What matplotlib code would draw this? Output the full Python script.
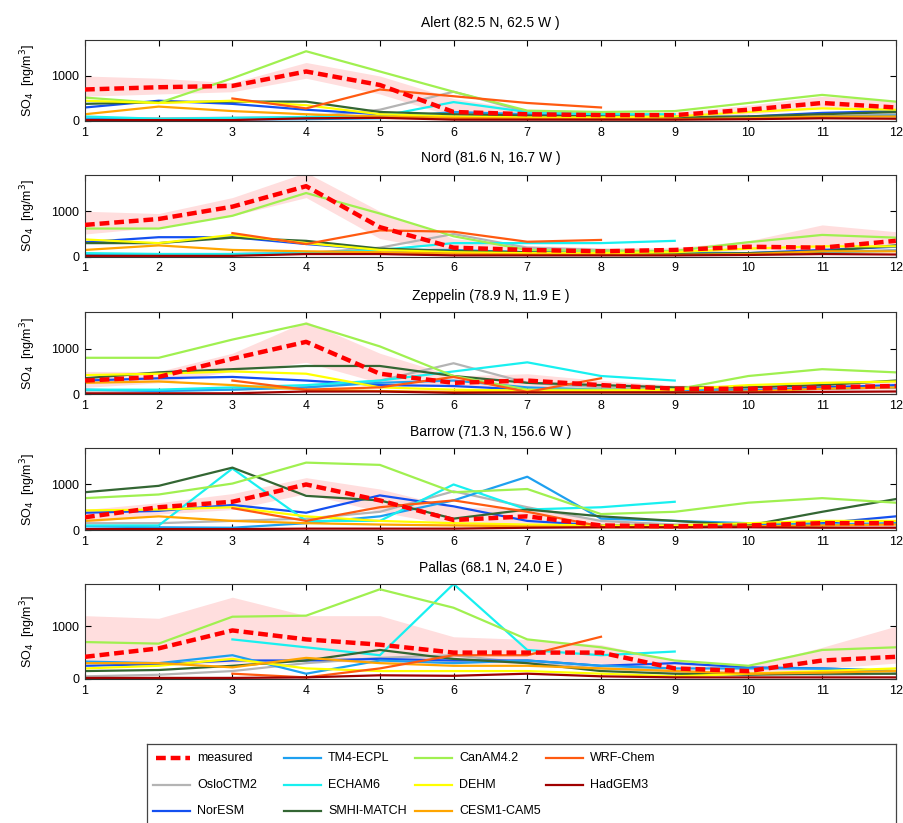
import numpy as np
import matplotlib
matplotlib.use('Agg')
import matplotlib.pyplot as plt

plt.rcParams['font.family'] = ['Liberation Sans', 'DejaVu Sans']

nan = np.nan
months = np.arange(1, 13)

stations = ['Alert (82.5 N, 62.5 W )', 'Nord (81.6 N, 16.7 W )', 'Zeppelin (78.9 N, 11.9 E )',
            'Barrow (71.3 N, 156.6 W )', 'Pallas (68.1 N, 24.0 E )']

models = ['OsloCTM2', 'NorESM', 'TM4-ECPL', 'ECHAM6', 'SMHI-MATCH', 'CanAM4.2',
          'DEHM', 'CESM1-CAM5', 'WRF-Chem', 'HadGEM3']
colors = {'OsloCTM2': '#b4b4b4', 'NorESM': '#1450f0', 'TM4-ECPL': '#1ea0f0',
          'ECHAM6': '#18f0f0', 'SMHI-MATCH': '#336633', 'CanAM4.2': '#a0f050',
          'DEHM': '#ffff00', 'CESM1-CAM5': '#ffa500', 'WRF-Chem': '#ff5a10',
          'HadGEM3': '#a00000'}

# measured monthly means and spread (ng/m3)
meas = [
    [700, 750, 780, 1100, 800, 200, 150, 130, 130, 250, 400, 300],
    [700, 830, 1100, 1550, 650, 200, 150, 120, 150, 220, 200, 350],
    [300, 380, 780, 1150, 450, 250, 300, 200, 120, 120, 150, 180],
    [280, 500, 620, 1000, 650, 220, 300, 100, 80, 100, 150, 150],
    [420, 580, 920, 750, 650, 500, 500, 500, 200, 150, 350, 420],
]
meas_hi = [
    [1000, 950, 850, 1300, 1000, 500, 250, 200, 200, 350, 550, 450],
    [1000, 950, 1300, 1850, 1000, 400, 250, 200, 200, 350, 700, 550],
    [500, 500, 900, 1600, 900, 400, 450, 300, 200, 200, 250, 300],
    [450, 600, 800, 1150, 900, 500, 500, 200, 150, 150, 200, 200],
    [1200, 1150, 1550, 1200, 1200, 800, 750, 650, 350, 250, 600, 1000],
]
meas_lo = [
    [550, 600, 650, 950, 600, 100, 100, 80, 80, 150, 280, 200],
    [500, 650, 900, 1300, 400, 100, 80, 60, 80, 150, 150, 250],
    [150, 250, 500, 700, 250, 150, 150, 100, 60, 60, 80, 100],
    [150, 350, 450, 800, 400, 100, 150, 50, 40, 50, 80, 80],
    [300, 300, 300, 350, 300, 300, 300, 300, 100, 80, 200, 300],
]

# model values per station, same model order as above
alert = [
    [60, 60, 70, 80, 250, 650, 200, 150, 100, 80, 100, 150],
    [300, 450, 380, 250, 150, 100, 100, 80, 80, 100, 180, 220],
    [50, 30, 30, 40, 60, 200, 150, 100, 80, 80, 100, 120],
    [100, 50, 70, 90, 100, 420, 200, 150, 150, nan, nan, nan],
    [380, 420, 430, 430, 200, 150, 120, 100, 80, 100, 150, 200],
    [520, 400, 950, 1550, 1100, 650, 230, 200, 220, 400, 580, 430],
    [450, 400, 450, 350, 150, 100, 80, 80, 100, 200, 280, 250],
    [150, 320, 220, 150, 100, 70, 50, 40, 40, 60, 100, 100],
    [nan, nan, 500, 280, 700, 550, 400, 300, nan, nan, nan, nan],
    [20, 20, 20, 60, 70, 30, 30, 30, 30, 40, 60, 50],
]
nord = [
    [50, 50, 60, 80, 200, 500, 200, 150, 100, 80, 100, 150],
    [320, 430, 430, 280, 150, 100, 80, 70, 60, 80, 150, 220],
    [60, 60, 60, 80, 150, 150, 100, 80, 80, 80, 100, 130],
    [80, 60, 60, 80, 150, 300, 300, 300, 350, nan, nan, nan],
    [300, 300, 420, 350, 180, 130, 100, 80, 60, 80, 120, 250],
    [620, 620, 900, 1400, 950, 450, 150, 130, 130, 320, 480, 420],
    [380, 300, 480, 300, 150, 100, 80, 80, 100, 180, 230, 230],
    [150, 250, 150, 120, 100, 70, 50, 40, 40, 60, 120, 120],
    [nan, nan, 520, 280, 580, 550, 330, 370, nan, nan, nan, nan],
    [20, 20, 20, 60, 60, 30, 30, 30, 30, 40, 60, 50],
]
zeppelin = [
    [80, 80, 100, 150, 300, 680, 250, 150, 100, 100, 120, 150],
    [300, 350, 380, 300, 200, 180, 100, 80, 70, 80, 150, 200],
    [100, 70, 100, 150, 250, 300, 150, 100, 80, 80, 120, 150],
    [100, 100, 150, 200, 300, 500, 700, 400, 300, nan, nan, nan],
    [350, 480, 550, 620, 620, 400, 250, 200, 150, 150, 200, 300],
    [800, 800, 1200, 1550, 1050, 400, 100, 100, 100, 400, 550, 480],
    [420, 450, 500, 450, 150, 100, 80, 80, 100, 200, 250, 280],
    [250, 280, 200, 100, 70, 50, 40, 40, 40, 60, 120, 150],
    [nan, nan, 300, 100, 150, 380, 50, 350, nan, nan, nan, nan],
    [20, 20, 20, 60, 60, 30, 40, 40, 40, 40, 50, 60],
]
barrow = [
    [150, 150, 200, 250, 400, 850, 500, 200, 120, 100, 100, 150],
    [380, 420, 550, 380, 760, 520, 200, 100, 100, 100, 150, 300],
    [80, 60, 50, 150, 300, 650, 1170, 250, 200, 150, 120, 150],
    [100, 100, 1350, 200, 200, 1000, 450, 500, 620, nan, nan, nan],
    [830, 970, 1370, 750, 650, 250, 450, 300, 200, 100, 400, 680],
    [700, 780, 1020, 1480, 1430, 830, 900, 350, 400, 600, 700, 600],
    [430, 450, 500, 300, 200, 150, 120, 100, 100, 150, 200, 200],
    [200, 300, 200, 150, 120, 100, 80, 60, 60, 80, 100, 120],
    [nan, nan, 480, 200, 500, 650, 400, 80, nan, nan, nan, nan],
    [20, 20, 20, 30, 30, 30, 50, 60, 60, 60, 50, 50],
]
pallas = [
    [50, 80, 150, 300, 400, 450, 300, 200, 150, 100, 80, 100],
    [250, 280, 350, 350, 380, 350, 350, 250, 300, 220, 200, 150],
    [330, 300, 450, 100, 350, 300, 350, 250, 200, 200, 200, 150],
    [nan, nan, 750, 600, 450, 1800, 550, 450, 520, nan, nan, nan],
    [150, 170, 250, 350, 550, 380, 300, 150, 100, 80, 100, 100],
    [700, 670, 1180, 1200, 1700, 1350, 750, 600, 350, 250, 550, 600],
    [200, 250, 380, 200, 150, 150, 150, 100, 50, 100, 150, 200],
    [300, 300, 220, 400, 300, 250, 250, 200, 150, 100, 120, 150],
    [nan, nan, 100, 30, 200, 450, 450, 800, nan, nan, nan, nan],
    [20, 20, 20, 30, 70, 60, 100, 50, 30, 30, 30, 30],
]
model_data = [alert, nord, zeppelin, barrow, pallas]

meas_style = dict(color='#ff0000', lw=3.2, ls=(0, (2.2, 1.1)))

fig = plt.figure(figsize=(9.04, 8.23), dpi=100)

# axes boxes (left, bottom, width, height) in figure fractions
boxes = [
    [0.094, 0.853, 0.897, 0.0984],
    [0.094, 0.688, 0.897, 0.0996],
    [0.094, 0.521, 0.897, 0.0996],
    [0.094, 0.356, 0.897, 0.0996],
    [0.094, 0.175, 0.897, 0.1154],
]

for k in range(5):
    ax = fig.add_axes(boxes[k])
    ax.fill_between(months, meas_lo[k], meas_hi[k], color='#ffdede', lw=0, zorder=1)
    for i, m in enumerate(models):
        ax.plot(months, model_data[k][i], color=colors[m], lw=1.6, zorder=2)
    ax.plot(months, meas[k], zorder=3, **meas_style)
    ax.set_xlim(1, 12)
    ax.set_ylim(0, 1800)
    ax.set_xticks(months)
    ax.set_yticks([0, 1000])
    ax.tick_params(direction='in', top=True, right=True, length=4, labelsize=9, pad=4)
    ax.set_title(stations[k], fontsize=10, pad=9)
    ax.set_ylabel('SO$_4$  [ng/m$^3$]', fontsize=9, labelpad=10)
    for s in ax.spines.values():
        s.set_linewidth(0.8)
        s.set_color('#333333')

# legend box drawn as its own axes: 4 columns, 3 rows, filled column-wise
order = ['measured', 'OsloCTM2', 'NorESM', 'TM4-ECPL', 'ECHAM6', 'SMHI-MATCH',
         'CanAM4.2', 'DEHM', 'CESM1-CAM5', 'WRF-Chem', 'HadGEM3']
lax = fig.add_axes([147 / 904, -0.02, (896 - 147) / 904, 0.116])
lax.set_xlim(147, 896)
lax.set_ylim(823 + 0.02 * 823, 744)
lax.set_xticks([])
lax.set_yticks([])
for s in lax.spines.values():
    s.set_linewidth(0.9)
    s.set_color('#444444')
row_y = [758, 785, 811]
col_x = [153, 284, 415, 546]
for j, name in enumerate(order):
    c, r = divmod(j, 3)
    x0 = col_x[c]
    y0 = row_y[r]
    if name == 'measured':
        lax.plot([x0 + 3, x0 + 37], [y0, y0], **meas_style)
    else:
        lax.plot([x0, x0 + 37], [y0, y0], color=colors[name], lw=1.6)
    lax.text(x0 + 44, y0, name, fontsize=9, va='center', ha='left')

fig.savefig('out.png', dpi=100)
